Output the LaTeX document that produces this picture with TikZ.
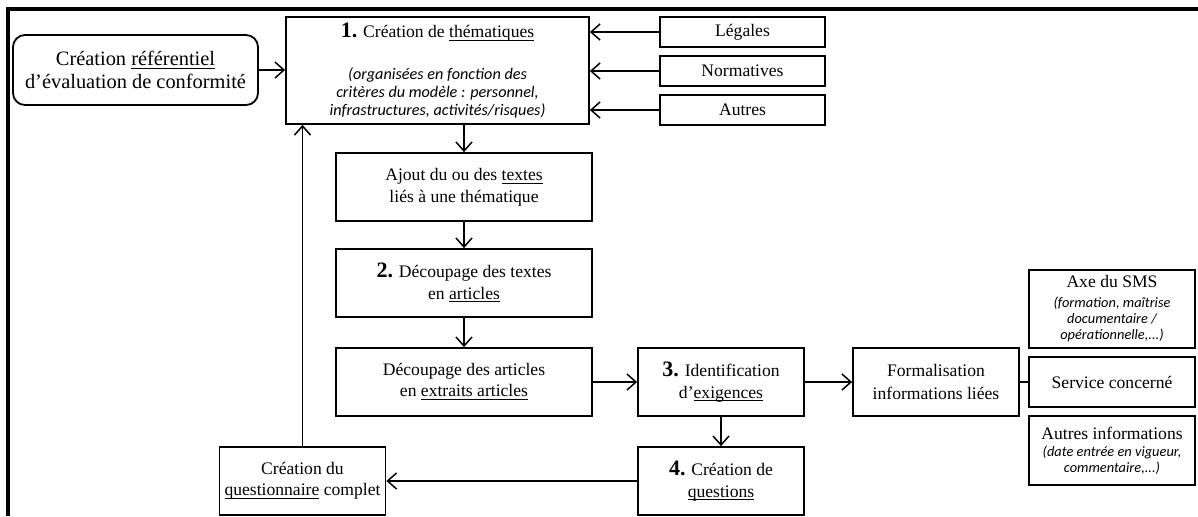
\documentclass[tikz,border=0pt]{standalone}
\usepackage{fontspec}
\setmainfont{Liberation Serif}
\newfontfamily\notefont{Carlito}
\usetikzlibrary{arrows.meta}

\tikzset{
	box/.style = {draw, line width = 0.9pt, align = center, inner sep = 0pt, font = \fontsize{8.8}{10.8}\selectfont},
	wide/.style = {box, minimum width = 128pt, minimum height = 34pt},
	step box/.style = {box, minimum width = 83pt, minimum height = 34pt},
	source/.style = {box, minimum width = 82.5pt, minimum height = 15pt},
	arr/.style = {line width = 0.75pt, -{Straight Barb[length = 4.5pt, width = 8pt, line width = 0.75pt]}},
	link/.style = {line width = 0.75pt}
}
\newcommand{\under}[1]{$\underline{\smash{\mbox{#1}}}$}
\newcommand{\remark}[1]{{\notefont\itshape #1}}
\newcommand{\num}[1]{{\bfseries\fontsize{11}{11}\selectfont #1}}

\begin{document}
\begin{tikzpicture}[x = 0.5pt, y = -0.5pt]
	\useasboundingbox (0, 0) rectangle (1198, 516);
	\draw[line width = 1.6pt] (8, 516) -- (8, 9) -- (1198, 9);
	
	\node[box, rounded corners = 6pt, minimum width = 122.5pt, minimum height = 35pt, font = \fontsize{10.2}{11.5}\selectfont] (ref) at (135.5, 70) {Création \under{référentiel}\\d’évaluation de conformité};
	
	\node[box, minimum width = 151.5pt, minimum height = 53.5pt, font = \fontsize{8.8}{9}\selectfont] (them) at (437.5, 70.5) {\num{1.} Création de \under{thématiques}\\[12pt]
		\remark{\fontsize{8.1}{9}\selectfont (organisées en fonction des}\\
		\remark{\fontsize{8.1}{9}\selectfont critères du modèle : personnel,}\\
		\remark{\fontsize{8.1}{9}\selectfont infrastructures, activités/risques)}};
	
	\node[source] (leg) at (742.5, 32) {Légales};
	\node[source] (norm) at (742.5, 71) {Normatives};
	\node[source] (aut) at (742.5, 110) {Autres};
	
	\node[wide] (ajout) at (464, 187) {Ajout du ou des \under{textes}\\liés à une thématique};
	\node[wide] (dec2) at (464, 283) {\num{2.} Découpage des textes\\en \under{articles}};
	\node[wide] (decart) at (464, 382) {Découpage des articles\\en \under{extraits articles}};
	
	\node[step box] (ident) at (721, 382) {\num{3.} Identification\\d’\under{exigences}};
	\node[step box] (quest) at (721, 481) {\num{4.} Création de\\\under{questions}};
	\node[step box] (questcomp) at (302.5, 481) {Création du\\\under{questionnaire} complet};
	\node[step box, font = \fontsize{8.8}{11.5}\selectfont] (form) at (936, 382) {Formalisation\\informations liées};
	
	\node[box, minimum width = 83pt, minimum height = 39pt, font = \fontsize{8.8}{8}\selectfont] (axe) at (1112, 309) {Axe du SMS\\[2pt]
		\remark{\fontsize{7.2}{8}\selectfont (formation, maîtrise}\\
		\remark{\fontsize{7.2}{8}\selectfont documentaire /}\\
		\remark{\fontsize{7.2}{8}\selectfont opérationnelle,...)}};
	\node[box, minimum width = 83pt, minimum height = 25pt] (serv) at (1112, 382) {Service concerné};
	\node[box, minimum width = 83pt, minimum height = 34.5pt, font = \fontsize{8.8}{8}\selectfont] (autinfo) at (1112, 450.5) {Autres informations\\[0.5pt]
		\remark{\fontsize{7.2}{8}\selectfont (date entrée en vigueur,}\\
		\remark{\fontsize{7.2}{8}\selectfont commentaire,...)}};
	
	\draw[arr] (ref.east) -- (ref.east -| them.west);
	\draw[arr] (leg.west) -- (leg.west -| them.east);
	\draw[arr] (norm.west) -- (norm.west -| them.east);
	\draw[arr] (aut.west) -- (aut.west -| them.east);
	\draw[arr] (ajout.north |- them.south) -- (ajout.north);
	\draw[arr] (ajout) -- (dec2);
	\draw[arr] (dec2) -- (decart);
	\draw[arr] (decart) -- (ident);
	\draw[arr] (ident) -- (form);
	\draw[arr] (ident) -- (quest);
	\draw[arr] (quest) -- (questcomp);
	\draw[arr] (questcomp.north) -- (questcomp.north |- them.south);
	\draw[link] (form) -- (serv);
\end{tikzpicture}
\end{document}
